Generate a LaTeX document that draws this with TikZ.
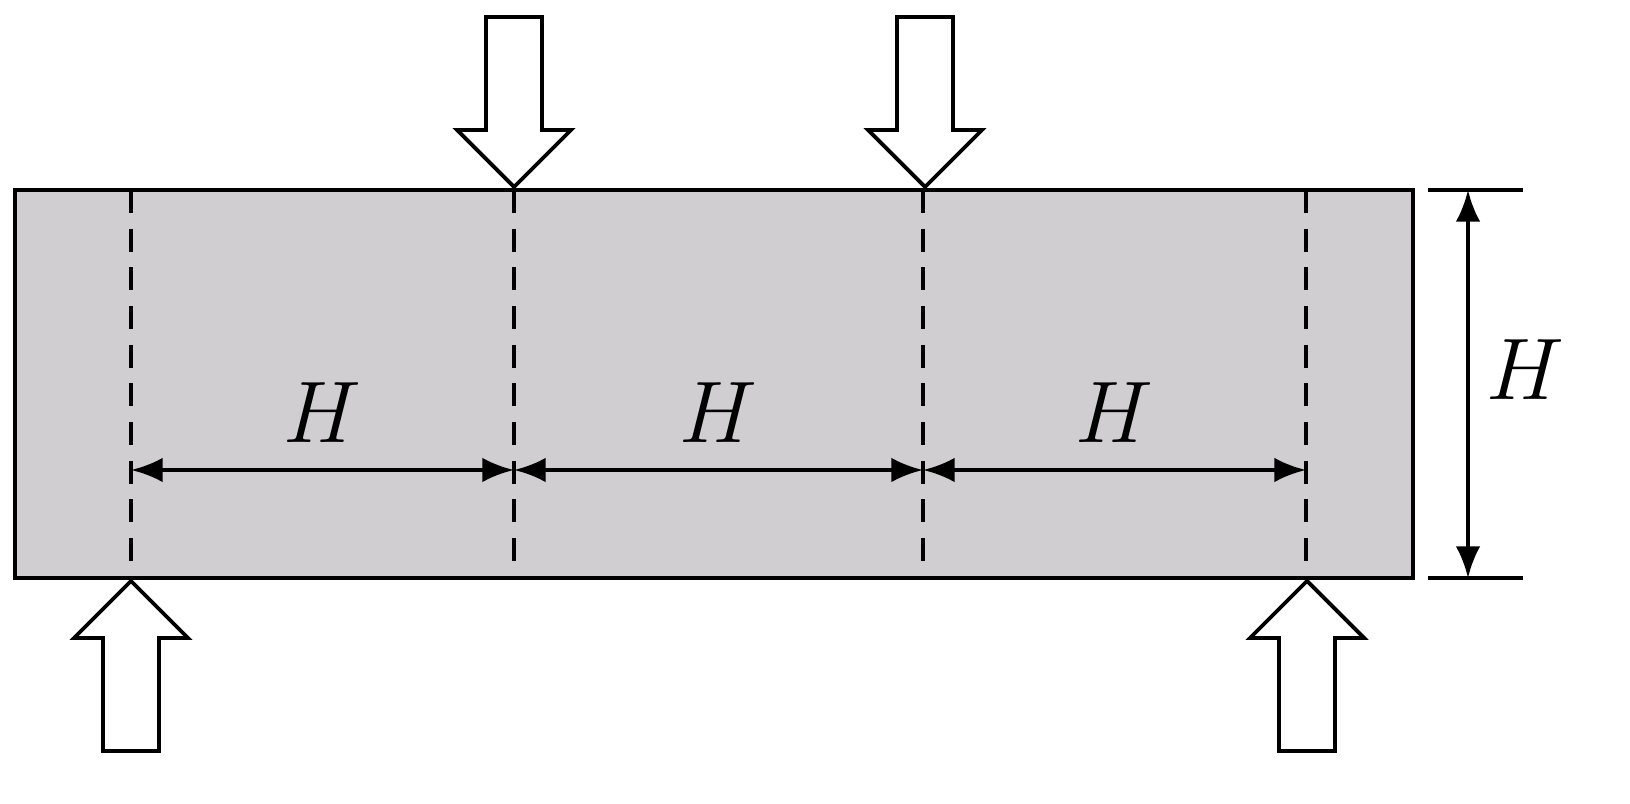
\documentclass[tikz,border=0pt]{standalone}
\usepackage{amsmath}
\usetikzlibrary{arrows.meta}
\definecolor{beamgray}{RGB}{208,206,208}
\tikzset{
  dim/.style={{Latex[length=9pt,width=7pt]}-{Latex[length=9pt,width=7pt]}, line width=1.1pt},
  cut/.style={dashed, dash pattern=on 6.5pt off 4.5pt, line width=1.1pt},
  load/.style={draw, fill=white, line width=1.1pt},
  lbl/.style={font=\fontsize{32}{34}\selectfont}
}
\newcommand{\loadarrow}[3]{% tip x, tip y, direction (+1 down, -1 up)
  \draw[load] (#1,#2) -- ++(-57,-57*#3) -- ++(29,0) -- ++(0,-113*#3) -- ++(56,0)
    -- ++(0,113*#3) -- ++(29,0) -- cycle;}

\begin{document}
\begin{tikzpicture}[x=0.01cm, y=-0.01cm]
  \useasboundingbox (0,0) rectangle (1630,804);
  % beam
  \draw[fill=beamgray, line width=1.1pt] (15,190) rectangle (1413,578);
  % section lines
  \foreach \name/\xx in {a/131, b/514, c/923, d/1306} {
    \coordinate (\name-top) at (\xx,190);
    \coordinate (\name-bot) at (\xx,565);
    \coordinate (\name) at (\xx,470);
    \draw[cut] (\name-top) -- (\name-bot);
  }
  % spans
  \draw[dim] (a) -- node[lbl, above=4pt] (h1) {$H$} (b);
  \draw[dim] (b) -- node[lbl, above=4pt] (h2) {$H$} (c);
  \draw[dim] (c) -- node[lbl, above=4pt] (h3) {$H$} (d);
  % height
  \coordinate (t1) at (1428,190); \coordinate (t2) at (1523,190);
  \coordinate (b1) at (1428,578); \coordinate (b2) at (1523,578);
  \coordinate (ht) at (1468,190); \coordinate (hb) at (1468,578);
  \draw[line width=1.1pt] (t1) -- (t2) (b1) -- (b2);
  \draw[dim] (ht) -- (hb);
  \node[lbl] (hh) at (1525,370) {$H$};
  % loads and supports
  \loadarrow{514}{187}{1}
  \loadarrow{925}{187}{1}
  \loadarrow{131}{581}{-1}
  \loadarrow{1307}{581}{-1}
\end{tikzpicture}
\end{document}
